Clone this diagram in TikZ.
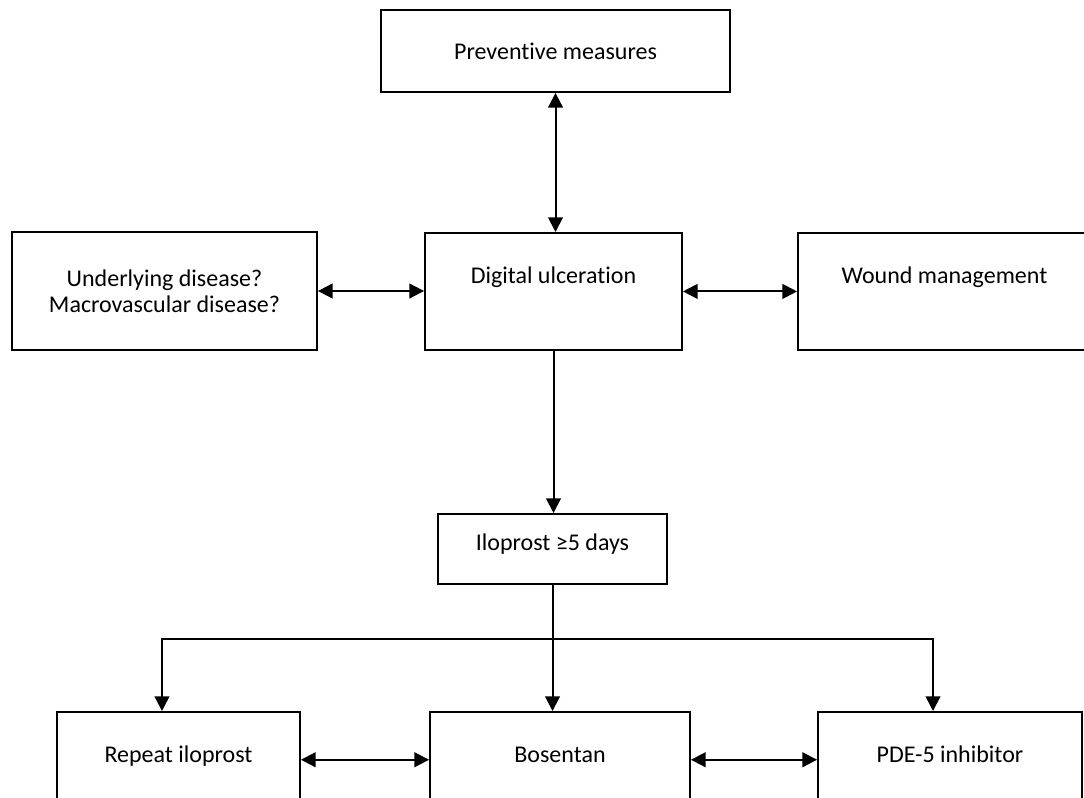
\documentclass[tikz,border=0pt]{standalone}
\usepackage{fontspec}
\setmainfont{Carlito}[Ligatures=NoCommon]
\usetikzlibrary{arrows.meta}

\begin{document}
\begin{tikzpicture}[x=0.75pt,y=0.75pt,yscale=-1,xscale=1,
  flowbox/.style={draw, line width=1.4pt, inner xsep=0pt, inner ysep=0pt, align=center,
    font=\fontsize{18}{19.5}\selectfont},
  tallbox/.style={flowbox, text height=38.25pt, text depth=49.5pt},
  oneway/.style={line width=1.5pt, -{Triangle[length=11pt,width=11pt]}},
  twoway/.style={line width=1.5pt, {Triangle[length=11pt,width=11pt]}-{Triangle[length=11pt,width=11pt]}}]
\useasboundingbox (0,0) rectangle (1084,798);
\clip (0,0) rectangle (1084,798);

%Shapes: Rectangles
\node[flowbox, minimum width=261.75pt, minimum height=61.5pt] (prev) at (555.5,51) {Preventive measures};
\node[flowbox, minimum width=228.75pt, minimum height=88.5pt] (under) at (164.5,291) {Underlying disease?\\Macrovascular disease?};
\node[tallbox, minimum width=192.75pt, anchor=north] (digit) at (553.5,232) {Digital ulceration};
\node[tallbox, minimum width=219.75pt, anchor=north] (wound) at (944.5,232) {Wound management};
\node[flowbox, minimum width=171.75pt, text height=27.75pt, text depth=24.75pt, anchor=north] (ilo) at (552.5,513) {Iloprost ≥5 days};
\node[tallbox, minimum width=182.25pt, anchor=north] (rep) at (178.5,711) {Repeat iloprost};
\node[tallbox, minimum width=195pt, anchor=north] (bos) at (560,711) {Bosentan};
\node[tallbox, minimum width=198pt, anchor=north] (pde) at (950,711) {PDE-5 inhibitor};

%Straight Lines: upper part
\draw[twoway] (prev.south) -- (prev.south |- digit.north);
\draw[twoway] (under.east) -- (under.east -| digit.west);
\draw[twoway] (digit.east) -- (digit.east -| wound.west);
\draw[oneway] (digit.south) -- (digit.south |- ilo.north);

%Straight Lines: branching
\coordinate (split) at ([yshift=40.5pt]ilo.south);
\draw[line width=1.5pt] (ilo.south) -- (split);
\draw[oneway] (split) -| ([xshift=-12.4pt]rep.north);
\draw[oneway] (split) -- (split |- bos.north);
\draw[oneway] (split) -| ([xshift=-12.75pt]pde.north);

%Straight Lines: lower part
\draw[twoway] (rep.mid east) -- (bos.mid west);
\draw[twoway] (bos.mid east) -- (pde.mid west);

\end{tikzpicture}
\end{document}
